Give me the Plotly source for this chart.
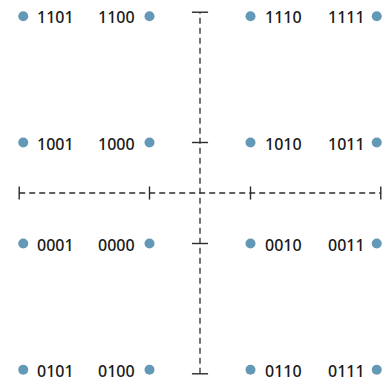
import plotly.graph_objects as go

# 16-QAM constellation data
labels = ["1101", "1100", "1110", "1111",
          "1001", "1000", "1010", "1011",
          "0001", "0000", "0010", "0011",
          "0101", "0100", "0110", "0111"]
x_vals = [-3.5, -1, 1, 3.5,
          -3.5, -1, 1, 3.5,
          -3.5, -1, 1, 3.5,
          -3.5, -1, 1, 3.5]
y_vals = [3.5, 3.5, 3.5, 3.5,
          1, 1, 1, 1,
          -1, -1, -1, -1,
          -3.5, -3.5, -3.5, -3.5]
tick_levels = [-3.58, -1, 1, 3.58]

dot_color = "#6399b6"
axis_color = "#2b2b2b"

fig = go.Figure()
fig.add_trace(go.Scatter(
    x=x_vals, y=y_vals, mode="markers",
    marker=dict(size=10, color=dot_color, line=dict(width=0)),
    hoverinfo="skip", showlegend=False,
))

shapes = []
ext = max(abs(t) for t in tick_levels)
# dashed axes
shapes.append(dict(type="line", xref="x", yref="y", x0=-ext, x1=ext, y0=0, y1=0,
                   line=dict(color=axis_color, width=1.3, dash="6px,4px")))
shapes.append(dict(type="line", xref="x", yref="y", x0=0, x1=0, y0=-ext, y1=ext,
                   line=dict(color=axis_color, width=1.3, dash="6px,4px")))
# tick marks
for t in tick_levels:
    shapes.append(dict(type="line", xref="x", yref="y", x0=t, x1=t, y0=-0.13, y1=0.13,
                       line=dict(color=axis_color, width=1.4)))
    shapes.append(dict(type="line", xref="x", yref="y", x0=-0.16, x1=0.16, y0=t, y1=t,
                       line=dict(color=axis_color, width=1.4)))

annotations = []
for lab, xi, yi in zip(labels, x_vals, y_vals):
    right = (xi < -2) or (0 < xi < 2)
    if right:
        anchor, shift = "left", 12
    elif xi > 2:
        anchor, shift = "right", -10
    else:
        anchor, shift = "right", -13
    annotations.append(dict(
        x=xi, y=yi, xref="x", yref="y", text=lab, showarrow=False,
        xanchor=anchor, yanchor="middle", xshift=shift, yshift=-1,
        font=dict(family="Noto Sans, Liberation Sans, sans-serif", size=16,
                  color="#1a1a1a", weight=500),
    ))

fig.update_layout(
    width=386, height=381, autosize=False,
    margin=dict(l=0, r=0, t=0, b=0),
    paper_bgcolor="white", plot_bgcolor="white",
    shapes=shapes, annotations=annotations,
    xaxis=dict(range=[-200 / 50.5, 186 / 50.5], visible=False, fixedrange=True),
    yaxis=dict(range=[-188 / 50.5, 193 / 50.5], visible=False, fixedrange=True),
)

fig.write_html(
    "out.html",
    config={"displayModeBar": False},
    post_script="document.body.style.margin='0';document.body.style.overflow='hidden';",
)
